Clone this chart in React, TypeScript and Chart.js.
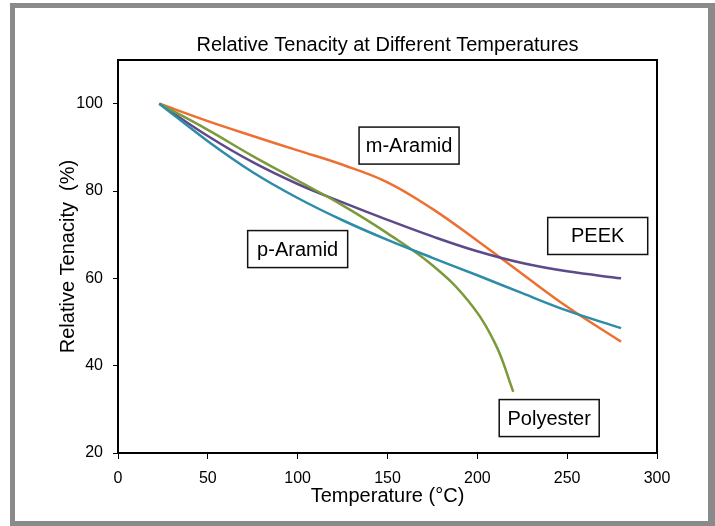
import React, { useEffect, useRef } from "react";
import { Chart, registerables } from "chart.js";

Chart.register(...registerables);

// ---- data ----
const mAramidT = [23, 50, 75, 100, 125, 150, 175, 200, 225, 250, 280];
const mAramidV = [100, 96, 92.6, 89.3, 86, 82, 75.9, 68.6, 61, 53.5, 45.5];

const peekT = [23, 50, 75, 100, 125, 150, 175, 200, 225, 250, 280];
const peekV = [100, 92.6, 86.6, 81.6, 77.4, 73.4, 69.6, 66.2, 63.5, 61.6, 60];

const pAramidT = [23, 50, 75, 100, 125, 150, 175, 200, 225, 250, 280];
const pAramidV = [100, 91.4, 84.3, 78.4, 73.3, 68.8, 64.7, 60.7, 56.6, 52.6, 48.6];

const polyesterT = [23, 50, 75, 100, 125, 150, 175, 195, 210, 220];
const polyesterV = [100, 94, 88, 82.4, 76.7, 70.3, 63, 54.8, 45, 34];

const xTicks = [0, 50, 100, 150, 200, 250, 300];
const yTicks = [20, 40, 60, 80, 100];

const labelNames = ["m-Aramid", "p-Aramid", "PEEK", "Polyester"];
const labelT = [162, 100, 267, 240];
const labelV = [90.4, 66.7, 69.7, 28];

const titleText = "Relative Tenacity at Different Temperatures";
const xTitle = "Temperature (°C)";
const yTitle = "Relative Tenacity  (%)";

const FONT = '"Liberation Sans", Arial, sans-serif';

function pts(t: number[], v: number[]) {
  return t.map((x, i) => ({ x, y: v[i] }));
}

const overlayPlugin = {
  id: "overlay",
  afterDatasetsDraw(chart: any) {
    const { ctx, chartArea: a, scales } = chart;
    ctx.save();
    ctx.strokeStyle = "#000";
    ctx.lineWidth = 2;
    ctx.strokeRect(a.left, a.top, a.right - a.left, a.bottom - a.top);
    // title centred over the plot area
    ctx.font = `20px ${FONT}`;
    ctx.textAlign = "center";
    ctx.textBaseline = "middle";
    ctx.fillStyle = "#000";
    ctx.fillText(titleText, (a.left + a.right) / 2, a.top - 15);
    const bw = 100;
    const bh = 37;
    labelNames.forEach((name, i) => {
      const cx = scales.x.getPixelForValue(labelT[i]);
      const cy = scales.y.getPixelForValue(labelV[i]);
      ctx.fillStyle = "#fff";
      ctx.fillRect(cx - bw / 2, cy - bh / 2, bw, bh);
      ctx.strokeStyle = "#111";
      ctx.lineWidth = 1.5;
      ctx.strokeRect(cx - bw / 2, cy - bh / 2, bw, bh);
      ctx.fillStyle = "#000";
      ctx.fillText(name, cx, cy + 1);
    });
    ctx.restore();
  },
};

export default function App() {
  const ref = useRef<HTMLCanvasElement | null>(null);
  useEffect(() => {
    if (!ref.current) return;
    Chart.defaults.font.family = FONT;
    Chart.defaults.color = "#000";
    const common = {
      fill: false,
      pointRadius: 0,
      borderWidth: 2.5,
      tension: 0.4,
    };
    const chart = new Chart(ref.current, {
      type: "line",
      data: {
        datasets: [
          { label: "p-Aramid", data: pts(pAramidT, pAramidV), borderColor: "#2E8CA8", ...common },
          { label: "Polyester", data: pts(polyesterT, polyesterV), borderColor: "#7C9A3A", ...common },
          { label: "PEEK", data: pts(peekT, peekV), borderColor: "#5C4A8A", ...common },
          { label: "m-Aramid", data: pts(mAramidT, mAramidV), borderColor: "#EC7130", ...common },
        ],
      },
      options: {
        responsive: false,
        animation: false,
        layout: { padding: { left: 0, right: 58, top: 60, bottom: 14 } },
        plugins: {
          legend: { display: false },
          tooltip: { enabled: false },
          title: { display: false },
        },
        scales: {
          x: {
            type: "linear",
            min: 0,
            max: 300,
            afterBuildTicks: (s: any) => {
              s.ticks = xTicks.map((v) => ({ value: v }));
            },
            afterFit: (s: any) => {
              s.height = 59;
            },
            ticks: { font: { size: 16 }, padding: 10, maxRotation: 0, autoSkip: false, color: "#000" },
            grid: { drawOnChartArea: false, drawTicks: true, tickLength: 6, color: "#000", lineWidth: 1 },
            border: { display: true, color: "#000", width: 2 },
            title: { display: true, text: xTitle, font: { size: 20 }, color: "#000", padding: { top: 0, bottom: 4 } },
          },
          y: {
            type: "linear",
            min: 20,
            max: 110,
            afterBuildTicks: (s: any) => {
              s.ticks = yTicks.map((v) => ({ value: v }));
            },
            afterFit: (s: any) => {
              s.width = 118;
            },
            ticks: { font: { size: 16 }, padding: 10, autoSkip: false, color: "#000" },
            grid: { drawOnChartArea: false, drawTicks: true, tickLength: 5, color: "#000", lineWidth: 1 },
            border: { display: true, color: "#000", width: 2 },
            title: { display: true, text: yTitle, font: { size: 20 }, color: "#000", padding: { top: 56, bottom: 0 } },
          },
        },
      },
      plugins: [overlayPlugin],
    });
    return () => chart.destroy();
  }, []);

  return (
    <div style={{ position: "absolute", left: 0, top: 0, width: 715, height: 526, background: "#fff" }}>
      <div
        style={{
          position: "absolute",
          left: 10,
          top: 3,
          width: 705,
          height: 523,
          boxSizing: "border-box",
          borderStyle: "solid",
          borderColor: "#8a8a8a",
          borderWidth: "5px 7px 5px 5px",
        }}
      />
      <canvas
        ref={ref}
        width={715}
        height={526}
        style={{ position: "absolute", left: 0, top: 0, width: 715, height: 526 }}
      />
    </div>
  );
}
